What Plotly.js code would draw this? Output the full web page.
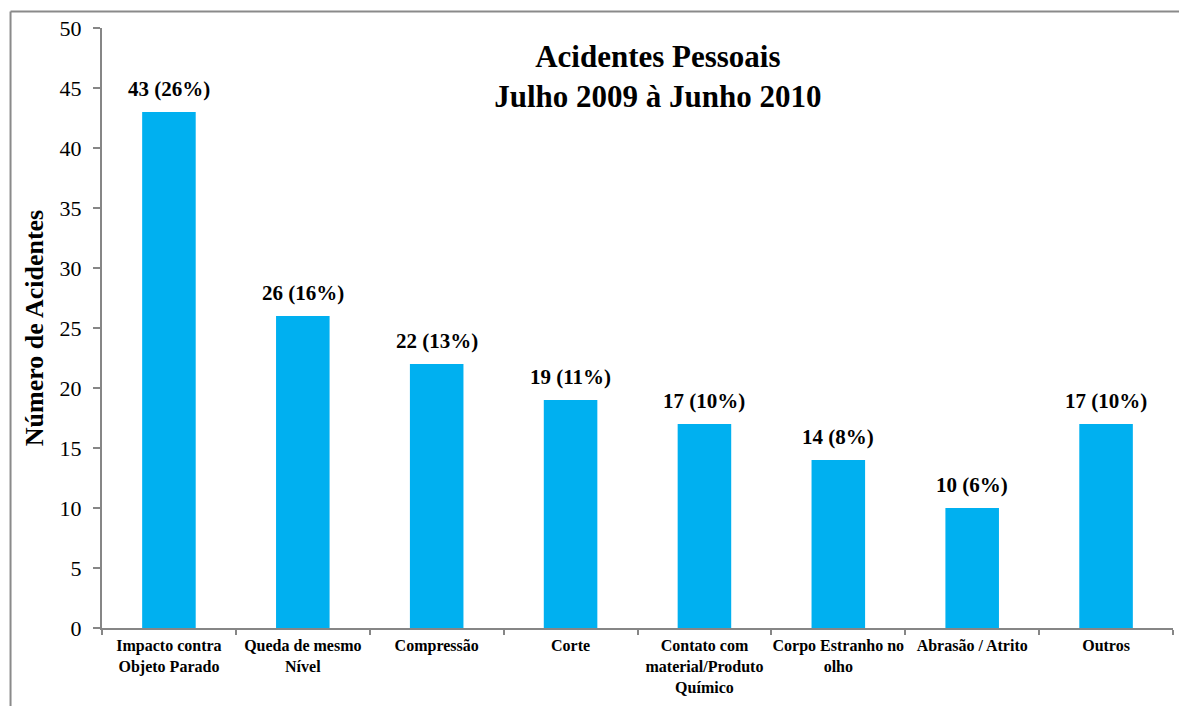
<!DOCTYPE html>
<html>
<head>
<meta charset="utf-8">
<script src="https://cdn.plot.ly/plotly-3.0.1.min.js"></script>
<style>
html,body{margin:0;padding:0;background:#fff;}
#chart{width:1179px;height:706px;}
</style>
</head>
<body>
<div id="chart"></div>
<script>
const categories = [
  "Impacto contra<br>Objeto Parado",
  "Queda de mesmo<br>Nível",
  "Compressão",
  "Corte",
  "Contato com<br>material/Produto<br>Químico",
  "Corpo Estranho no<br>olho",
  "Abrasão / Atrito",
  "Outros"
];
const counts = [43, 26, 22, 19, 17, 14, 10, 17];
const percents = [26, 16, 13, 11, 10, 8, 6, 10];
const yTicks = [0, 5, 10, 15, 20, 25, 30, 35, 40, 45, 50];

const FONT = "'Liberation Serif', 'Times New Roman', serif";
const axisGray = "#868686";

const trace = {
  type: "bar",
  x: categories,
  y: counts,
  marker: {color: "#00B0F0"},
  hoverinfo: "skip"
};

const labelAnnotations = categories.map((c, i) => ({
  x: c, y: counts[i], xref: "x", yref: "y",
  text: "<b>" + counts[i] + " (" + percents[i] + "%)</b>",
  showarrow: false, yanchor: "bottom", yshift: 9,
  font: {family: FONT, size: 21, color: "#000"}
}));

const layout = {
  width: 1179, height: 706,
  margin: {l: 102, r: 6, t: 28, b: 78},
  paper_bgcolor: "#fff", plot_bgcolor: "#fff",
  bargap: 0.6,
  showlegend: false,
  title: {
    text: "<b>Acidentes Pessoais<br>Julho 2009 à Junho 2010</b>",
    font: {family: FONT, size: 31, color: "#000"},
    xref: "paper", x: 0.519, xanchor: "center",
    yref: "container", y: 1 - 67/706, yanchor: "middle"
  },
  xaxis: {
    type: "category",
    showline: true, linecolor: axisGray, linewidth: 2,
    ticks: "outside", tickson: "boundaries", ticklen: 5, tickcolor: axisGray, tickwidth: 2,
    showgrid: false, zeroline: false,
    tickfont: {family: FONT, size: 16, color: "#000"},
    tickangle: 0, ticklabelstandoff: 2,
    tickprefix: "<b>", ticksuffix: "</b>"
  },
  yaxis: {
    range: [0, 50],
    tickvals: yTicks,
    showline: true, linecolor: axisGray, linewidth: 2,
    ticks: "outside", ticklen: 7, tickcolor: axisGray, tickwidth: 2,
    showgrid: false, zeroline: false,
    ticklabelstandoff: 7,
    tickfont: {family: FONT, size: 22, color: "#000"},
    title: {text: "<b>Número de Acidentes</b>", font: {family: FONT, size: 26, color: "#000"}, standoff: 8}
  },
  annotations: labelAnnotations,
  shapes: [
    {type: "line", xref: "paper", yref: "paper", x0: -0.0854, x1: 1.2, y0: 1.0275, y1: 1.0275, line: {color: "#8a8a8a", width: 2}},
    {type: "line", xref: "paper", yref: "paper", x0: -0.0854, x1: -0.0854, y0: 1.0275, y1: -0.2, line: {color: "#8a8a8a", width: 2}}
  ]
};

Plotly.newPlot("chart", [trace], layout, {displayModeBar: false, staticPlot: true});
</script>
</body>
</html>
